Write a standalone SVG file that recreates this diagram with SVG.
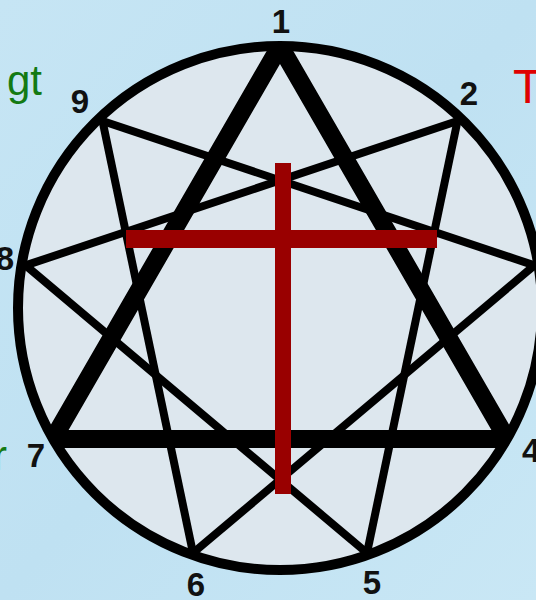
<svg xmlns="http://www.w3.org/2000/svg" width="536" height="600" viewBox="0 0 536 600">
  <defs>
    <linearGradient id="bg" x1="0" y1="0" x2="1" y2="1">
      <stop offset="0" stop-color="#c6e5f4"/>
      <stop offset="0.5" stop-color="#bfe1f2"/>
      <stop offset="1" stop-color="#c9e7f5"/>
    </linearGradient>
    <clipPath id="inside">
      <circle cx="280" cy="308" r="262"/>
    </clipPath>
  </defs>
  <style>
    .thin { stroke: #000; stroke-width: 8; fill: none; stroke-linecap: butt; }
    .thick { stroke: #000; stroke-width: 18; fill: none; stroke-linejoin: miter; }
    .num { font-family: "Liberation Sans", Arial, sans-serif; font-weight: bold; font-size: 33px; fill: #111; }
    .word { font-family: "Liberation Sans", Arial, sans-serif; font-size: 42px; }
    .cross { fill: #990000; }
  </style>

  <rect x="0" y="0" width="536" height="600" fill="url(#bg)"/>

  <g id="side-texts">
    <text class="word" x="42" y="95" text-anchor="end" fill="#137a13">gt</text>
    <text class="word" x="513" y="103" fill="#e00000" style="font-size:48px">T</text>
    <text class="word" x="7" y="470" text-anchor="end" fill="#137a13">r</text>
  </g>

  <g id="ring">
    <circle cx="280" cy="308" r="262" fill="#dde7ee"/>
  </g>

  <g id="connectors" clip-path="url(#inside)">
    <polygon class="thick" points="280,46 507,439 53,439"/>
    <line class="thin" x1="457.5" y1="121" x2="367" y2="553"/>
    <line class="thin" x1="457.5" y1="121" x2="25.6" y2="265.4"/>
    <line class="thin" x1="25.6" y1="265.4" x2="367" y2="553"/>
    <line class="thin" x1="102.5" y1="121" x2="193" y2="553"/>
    <line class="thin" x1="102.5" y1="121" x2="534.4" y2="265.4"/>
    <line class="thin" x1="534.4" y1="265.4" x2="193" y2="553"/>
  </g>

  <circle cx="280" cy="308" r="262" fill="none" stroke="#000" stroke-width="10"/>

  <g id="cross">
    <rect class="cross" x="275" y="163" width="16" height="331"/>
    <rect class="cross" x="126" y="230" width="311" height="18"/>
  </g>

  <g id="node-1"><text class="num" x="281" y="33" text-anchor="middle">1</text></g>
  <g id="node-2"><text class="num" x="469" y="105" text-anchor="middle">2</text></g>
  <g id="node-4"><text class="num" x="522" y="462">4</text></g>
  <g id="node-5"><text class="num" x="372" y="594" text-anchor="middle">5</text></g>
  <g id="node-6"><text class="num" x="196" y="596" text-anchor="middle">6</text></g>
  <g id="node-7"><text class="num" x="36" y="467" text-anchor="middle">7</text></g>
  <g id="node-8"><text class="num" x="14" y="270" text-anchor="end">8</text></g>
  <g id="node-9"><text class="num" x="80" y="113" text-anchor="middle">9</text></g>
</svg>
